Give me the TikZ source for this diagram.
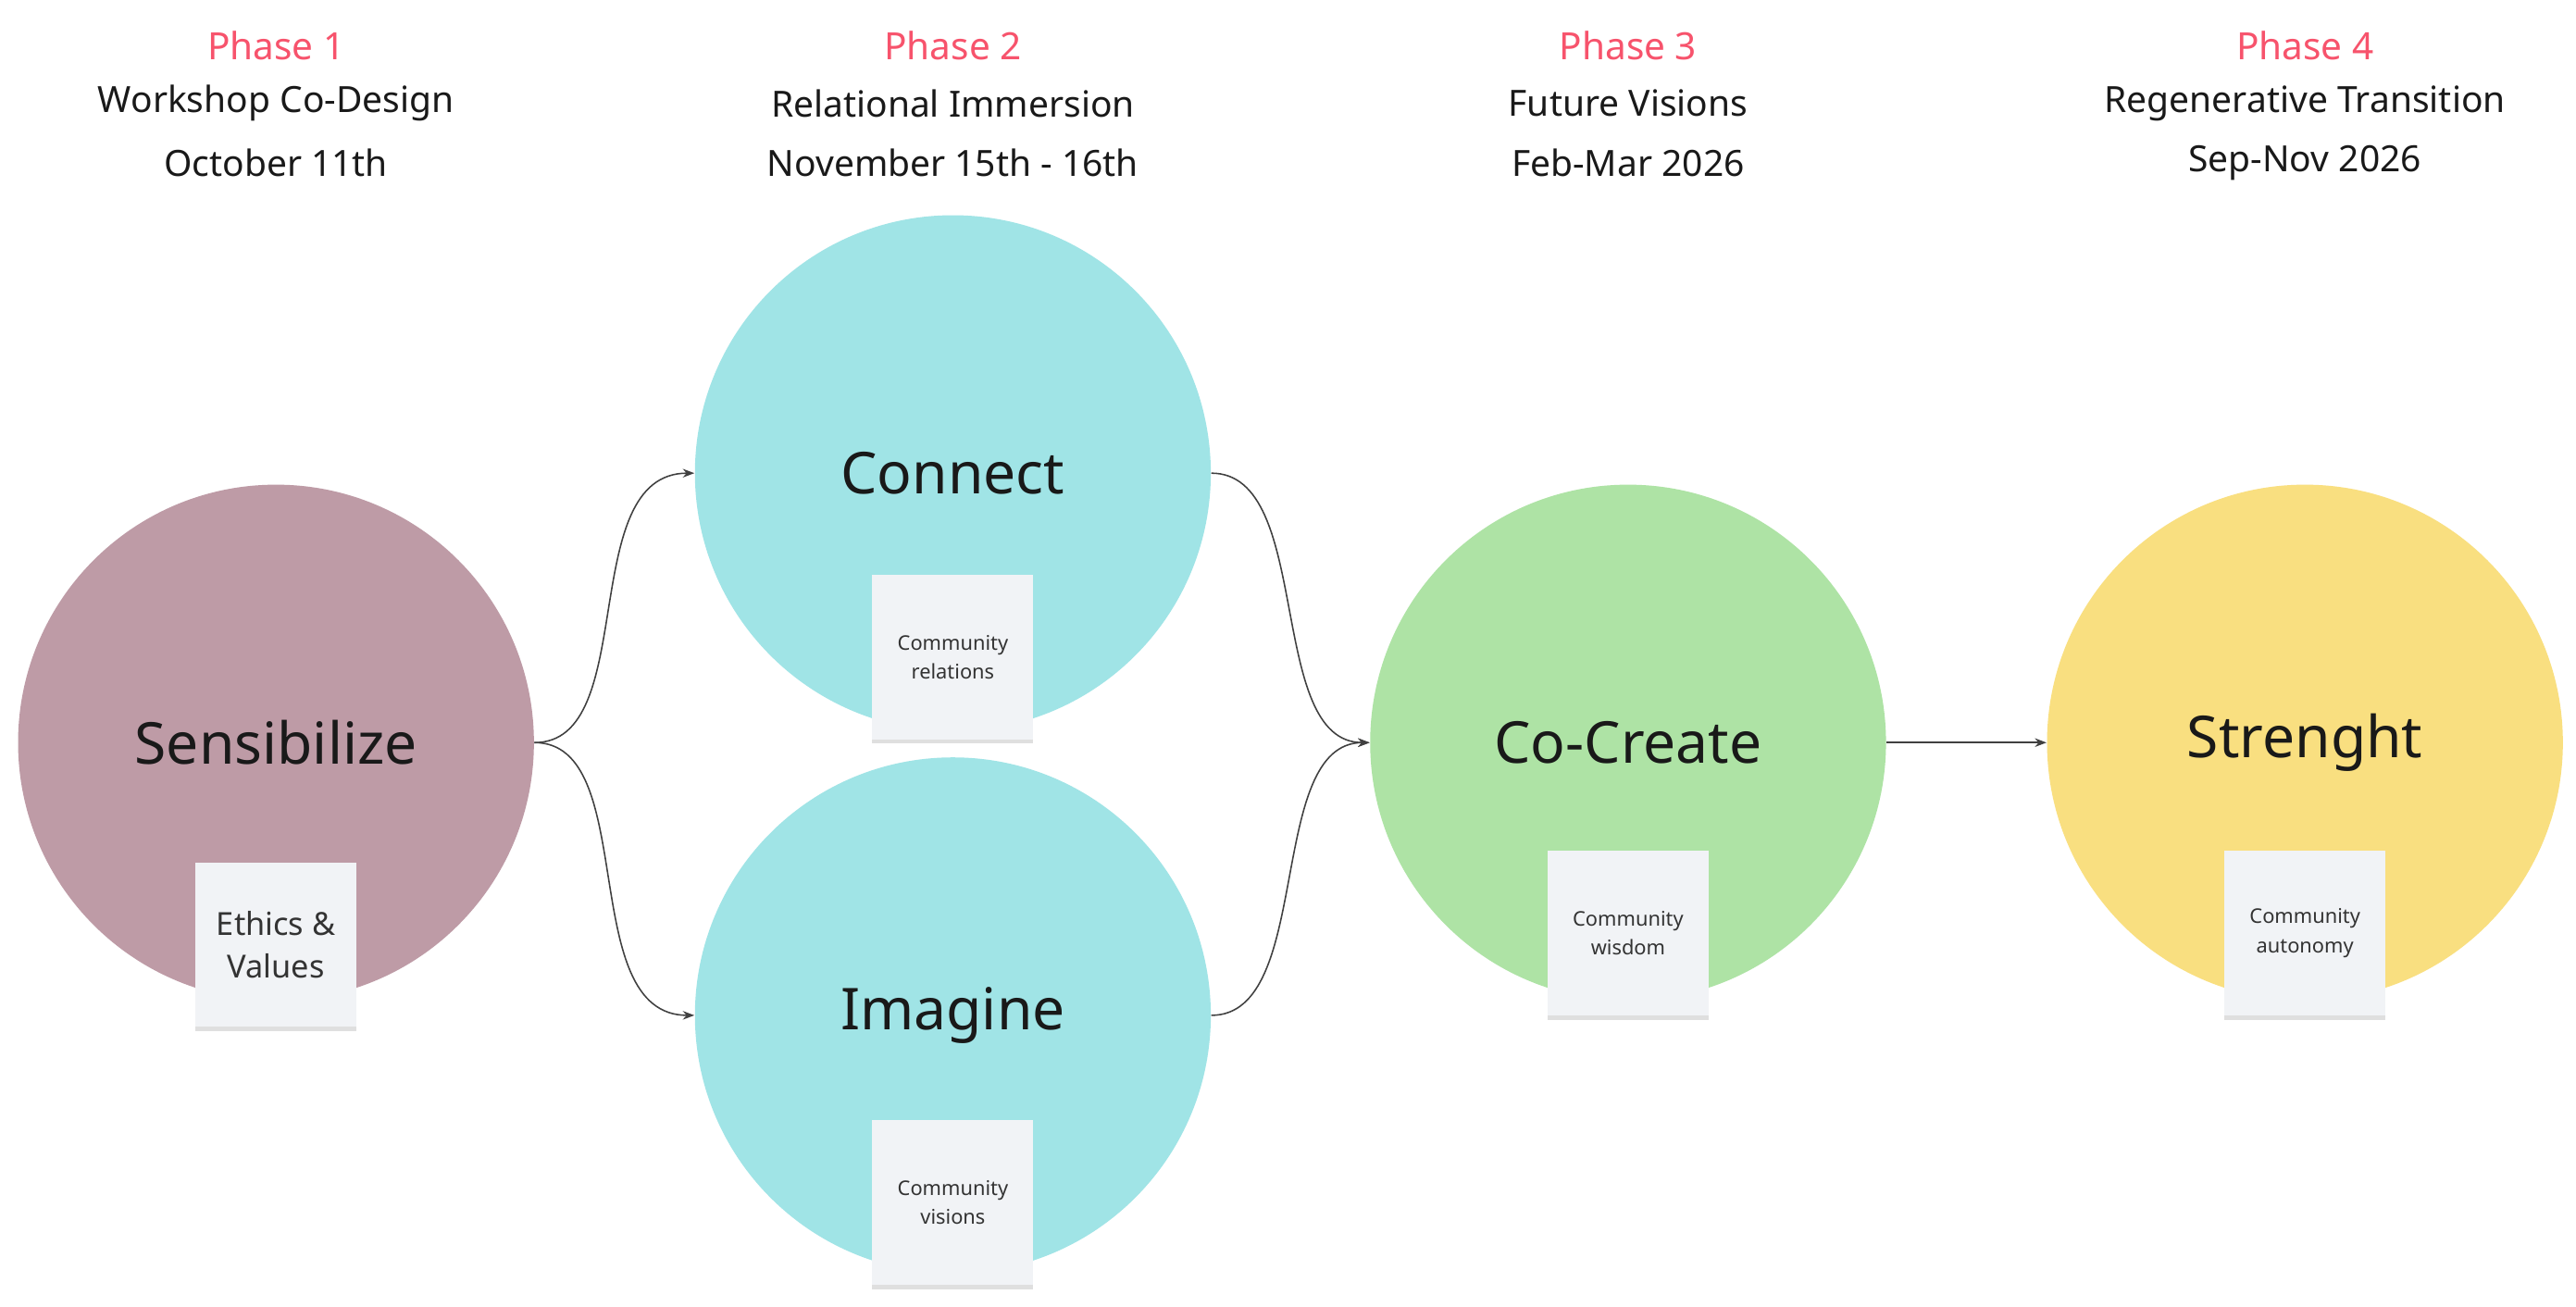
\documentclass[tikz,border=0pt]{standalone}
\usepackage{fontspec}
\setmainfont{Noto Sans}
\usetikzlibrary{arrows.meta,shadows}
\definecolor{mauve}{HTML}{BE9BA6}
\definecolor{cyanc}{HTML}{A0E4E6}
\definecolor{greenc}{HTML}{AEE3A5}
\definecolor{yellowc}{HTML}{F9DF80}
\definecolor{pinkc}{HTML}{F7536C}
\definecolor{notec}{HTML}{F1F3F6}
\begin{document}
\begin{tikzpicture}[x=0.02cm,y=-0.02cm,
  circ/.style={circle,minimum size=314*0.02cm,inner sep=0pt,font=\fontsize{20}{24}\selectfont\bfseries,text=black!90},
  note/.style={fill=notec,minimum width=98*0.02cm,minimum height=100*0.02cm,inner sep=1pt,align=center,
    drop shadow={shadow xshift=0pt,shadow yshift=-1.5pt,opacity=0.25},font=\fontsize{7}{10}\selectfont,text=black!80},
  phase/.style={font=\fontsize{13}{15}\selectfont\bfseries,text=pinkc},
  ttl/.style={font=\fontsize{12.5}{15}\selectfont\bfseries,text=black!90},
  dt/.style={font=\fontsize{12.5}{15}\selectfont,text=black!90},
  conn/.style={draw=black!75,line width=0.5pt,-{Stealth[length=4pt,width=3pt]}}]
\useasboundingbox[fill=white] (0,0) rectangle (1568,795);
\node[circ,fill=mauve] (s) at (168,452) {};
\node[circ,fill=cyanc] (c) at (580,288) {};
\node[circ,fill=cyanc] (i) at (580,618) {};
\node[circ,fill=greenc] (cc) at (991,452) {};
\node[circ,fill=yellowc] (st) at (1403,452) {};
\node[circ] (sl) at (168,452) {Sensibilize};
\node[circ] (cl) at (580,288) {Connect};
\node[circ] (il) at (580,618) {Imagine};
\node[circ] (ccl) at (991,452) {Co-Create};
\node[circ] (stl) at (1403,452) {Strenght};
\node[note,font=\fontsize{11}{15}\selectfont] (n1) at (168,575) {Ethics \&\\Values};
\node[note] (n2) at (580,400) {Community\\relations};
\node[note] (n3) at (580,732) {Community\\visions};
\node[note] (n4) at (991,568) {Community\\wisdom};
\node[note] (n5) at (1403,568) {Community\\autonomy};
\draw[conn] (s.east) .. controls (390,452) and (350,288) .. (c.west);
\draw[conn] (s.east) .. controls (390,452) and (350,618) .. (i.west);
\draw[conn] (c.east) .. controls (800,288) and (770,452) .. (cc.west);
\draw[conn] (i.east) .. controls (800,618) and (770,452) .. (cc.west);
\draw[conn] (cc.east) -- (st.west);
\foreach \x/\n/\t/\d/\k in {168/1/Workshop Co-Design/October 11th/a,580/2/Relational Immersion/November 15th - 16th/b,991/3/Future Visions/Feb-Mar 2026/c,1403/4/Regenerative Transition/Sep-Nov 2026/d}{
  \node[phase] (p\k) at (\x,28) {Phase \n};
  \node[ttl] (t\k) at (\x,63) {\t};
  \node[dt] (d\k) at (\x,99) {\d};
}
\end{tikzpicture}
\end{document}
